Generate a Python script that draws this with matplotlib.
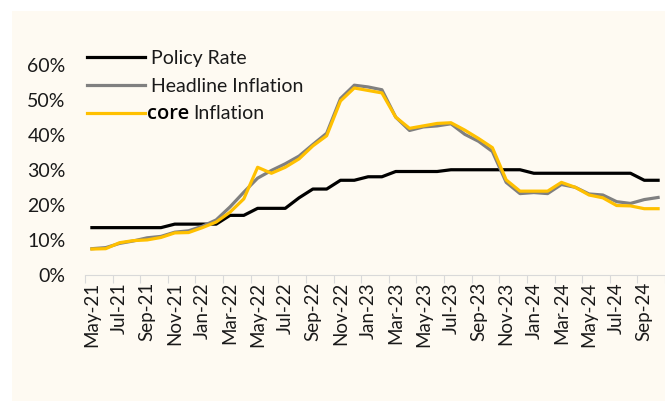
import matplotlib.pyplot as plt
from matplotlib.patches import Rectangle
from matplotlib.transforms import Affine2D

months = [
    "May-21", "Jun-21", "Jul-21", "Aug-21", "Sep-21", "Oct-21", "Nov-21", "Dec-21",
    "Jan-22", "Feb-22", "Mar-22", "Apr-22", "May-22", "Jun-22", "Jul-22", "Aug-22",
    "Sep-22", "Oct-22", "Nov-22", "Dec-22", "Jan-23", "Feb-23", "Mar-23", "Apr-23",
    "May-23", "Jun-23", "Jul-23", "Aug-23", "Sep-23", "Oct-23", "Nov-23", "Dec-23",
    "Jan-24", "Feb-24", "Mar-24", "Apr-24", "May-24", "Jun-24", "Jul-24", "Aug-24",
    "Sep-24", "Oct-24",
]

policy_rate = [
    13.5, 13.5, 13.5, 13.5, 13.5, 13.5, 14.5, 14.5, 14.5, 14.5, 17.0, 17.0,
    19.0, 19.0, 19.0, 22.0, 24.5, 24.5, 27.0, 27.0, 28.0, 28.0, 29.5, 29.5,
    29.5, 29.5, 30.0, 30.0, 30.0, 30.0, 30.0, 30.0, 29.0, 29.0, 29.0, 29.0,
    29.0, 29.0, 29.0, 29.0, 27.0, 27.0,
]

headline = [
    7.5, 7.8, 9.0, 9.7, 10.6, 11.0, 12.2, 12.6, 13.9, 15.7, 19.4, 23.6,
    27.6, 29.8, 31.7, 33.9, 37.2, 40.4, 50.3, 54.1, 53.6, 52.8, 45.0, 41.2,
    42.2, 42.5, 43.1, 40.1, 38.1, 35.2, 26.4, 23.2, 23.5, 23.2, 25.8, 25.0,
    23.1, 22.8, 20.9, 20.4, 21.5, 22.1,
]

core = [
    7.4, 7.5, 9.2, 9.8, 10.0, 10.7, 12.0, 12.1, 13.5, 15.1, 17.9, 21.7,
    30.7, 29.0, 30.7, 33.1, 36.8, 39.7, 49.6, 53.3, 52.6, 51.9, 45.0, 41.8,
    42.5, 43.2, 43.4, 41.3, 38.9, 36.3, 27.1, 23.9, 23.9, 23.9, 26.4, 25.0,
    22.8, 22.0, 19.8, 19.7, 18.9, 18.9,
]

y_ticks = [0, 10, 20, 30, 40, 50, 60]

CREAM = "#FEFAF2"
TEXT = "#1a1a1a"

plt.rcParams["font.family"] = ["Lato", "DejaVu Sans"]

fig = plt.figure(figsize=(6.65, 4.01), dpi=100)
fig.patches.append(
    Rectangle((12 / 665, 0), 1, 1 - 11 / 401, transform=fig.transFigure,
              facecolor=CREAM, edgecolor="none", zorder=-5)
)

ax = fig.add_axes([85 / 665, 126 / 401, 580 / 665, 210.5 / 401])
ax.set_facecolor("none")

x = list(range(len(months)))
ax.plot(x, policy_rate, color="black", lw=2.3, label="Policy Rate", solid_joinstyle="round")
ax.plot(x, headline, color="#808080", lw=2.3, label="Headline Inflation", solid_joinstyle="round")
ax.plot(x, core, color="#FFC000", lw=2.3, label="core Inflation", solid_joinstyle="round")

ax.set_xlim(-0.5, 40.63)
ax.set_ylim(0, 60)

ax.set_xticks(x[::2])
ax.set_xticklabels(months[::2], rotation=90)
ax.set_xticks([i - 0.5 for i in range(0, len(months) + 1, 2)], minor=True)
ax.tick_params(axis="x", which="major", length=0, pad=5, labelsize=13.5, labelcolor=TEXT)
ax.tick_params(axis="x", which="minor", length=6, width=0.8, color="#d9d9d9")

ax.set_yticks(y_ticks)
ax.set_yticklabels([f"{v}%" for v in y_ticks])
ax.tick_params(axis="y", length=0, pad=14, labelsize=14, labelcolor=TEXT)

for side in ["top", "right", "left"]:
    ax.spines[side].set_visible(False)
ax.spines["bottom"].set_color("#d9d9d9")
ax.spines["bottom"].set_linewidth(0.8)

leg = ax.legend(
    loc="upper left", bbox_to_anchor=(87 / 665, 1 - 50 / 401),
    bbox_transform=fig.transFigure, frameon=False, borderaxespad=0,
    borderpad=0, handlelength=3.0, handletextpad=0.3, labelspacing=0.55,
    fontsize=14,
)
for t in leg.get_texts():
    t.set_color(TEXT)

# "core" is set in a heavier face than the rest of the label, as in the source
core_label = leg.get_texts()[2]
core_label.set_text("Inflation")
core_label.set_transform(core_label.get_transform() + Affine2D().translate(42, 0))
ax.annotate("core", xy=(0, 0.5), xycoords=core_label, xytext=(-33, 0),
            textcoords="offset points", va="center", ha="left",
            fontsize=14.5, fontweight="semibold", family=["Open Sans", "DejaVu Sans"],
            color="black", zorder=10)

fig.savefig("out.png", dpi=100)
